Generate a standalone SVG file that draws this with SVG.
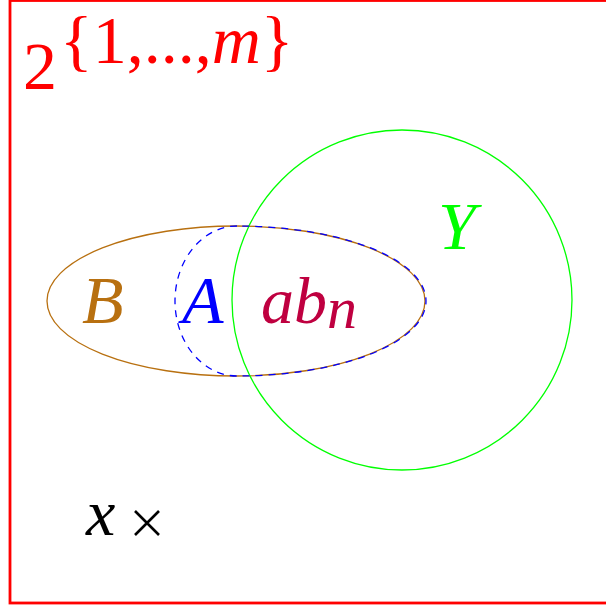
<svg xmlns="http://www.w3.org/2000/svg" width="606" height="609" viewBox="0 0 606 609">
<style>
.t{font-family:"Liberation Serif","Times New Roman",serif;font-size:66px}
.i{font-style:italic}
.set{fill:none}
</style>
<rect width="606" height="609" fill="#ffffff"/>
<g id="universe">
<rect x="10" y="0.5" width="605" height="602.5" fill="none" stroke="#ff0000" stroke-width="2.8"/>
<text class="t" x="23" y="89" fill="#ff0000" style="font-size:68px">2<tspan x="60" y="63" style="font-size:68px">{1,...,<tspan class="i">m</tspan>}</tspan></text>
</g>
<g id="B">
<ellipse class="set" cx="236" cy="301" rx="189" ry="75" stroke="#b87010" stroke-width="1.3"/>
<text class="t i" x="82" y="323" fill="#b87010" style="font-size:68px">B</text>
</g>
<g id="Y">
<circle class="set" cx="402" cy="300" r="170" stroke="#00ff00" stroke-width="1.3"/>
<text class="t i" x="438" y="249" fill="#00ff00" style="font-size:68px">Y</text>
</g>
<g id="A">
<path class="set" d="M237,226 A62,75 0 0 0 237,376 A189,75 0 0 0 237,226" stroke="#0000ff" stroke-width="1.3" stroke-dasharray="7,6"/>
<text class="t i" x="182" y="323" fill="#0000ff" style="font-size:68px">A</text>
</g>
<g id="abn">
<text class="t i" x="261" y="323" fill="#bf0040" style="font-size:66px">ab<tspan dy="5" style="font-size:60px">n</tspan></text>
</g>
<g id="x">
<text class="t i" x="86" y="535" fill="#000000" style="font-size:66px">x</text>
<path d="M135,511 L159,535 M159,511 L135,535" stroke="#000000" stroke-width="2.6" fill="none"/>
</g>
</svg>
